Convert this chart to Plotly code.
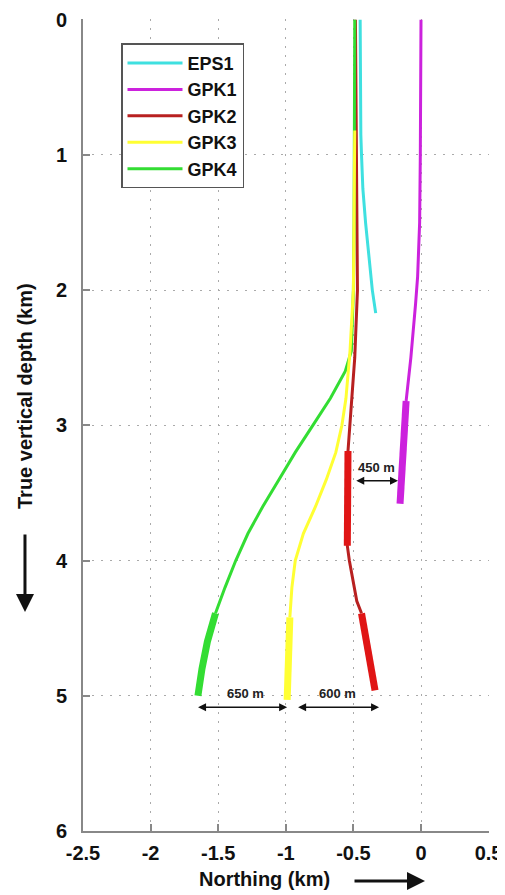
import plotly.graph_objects as go

# ---------------- data ----------------
# EPS1
eps1_depth = [0.0, 0.5, 0.85, 1.0, 1.25, 1.5, 1.75, 2.0, 2.17]
eps1_north = [-0.45, -0.45, -0.445, -0.44, -0.43, -0.41, -0.385, -0.36, -0.335]

# GPK1 (thin + open-hole thick part)
gpk1_depth = [0.0, 0.5, 1.0, 1.5, 1.9, 2.1, 2.5, 2.82]
gpk1_north = [0.0, 0.0, -0.005, -0.01, -0.025, -0.04, -0.075, -0.11]
gpk1_oh_depth = [2.82, 3.2, 3.58]
gpk1_oh_north = [-0.11, -0.13, -0.155]

# GPK2
gpk2_depth = [0.0, 0.82, 1.5, 2.0, 2.5, 3.0, 3.19, 3.5, 3.89, 4.0, 4.15, 4.3, 4.39]
gpk2_north = [-0.485, -0.48, -0.475, -0.47, -0.49, -0.53, -0.54, -0.545, -0.545, -0.53, -0.505, -0.475, -0.44]
gpk2_oh1_depth = [3.19, 3.5, 3.89]
gpk2_oh1_north = [-0.54, -0.545, -0.545]
gpk2_oh2_depth = [4.39, 4.6, 4.8, 4.96]
gpk2_oh2_north = [-0.44, -0.40, -0.365, -0.34]

# GPK3
gpk3_depth = [0.82, 1.5, 2.0, 2.45, 2.8, 3.0, 3.2, 3.4, 3.6, 3.8, 4.0, 4.2, 4.42]
gpk3_north = [-0.49, -0.495, -0.50, -0.525, -0.555, -0.585, -0.63, -0.70, -0.78, -0.87, -0.93, -0.955, -0.97]
gpk3_oh_depth = [4.42, 4.7, 5.03]
gpk3_oh_north = [-0.97, -0.98, -0.99]

# GPK4
gpk4_depth = [0.0, 0.82, 1.5, 2.0, 2.45, 2.6, 2.8, 3.0, 3.2, 3.4, 3.6, 3.8, 4.0, 4.2, 4.39]
gpk4_north = [-0.49, -0.49, -0.495, -0.50, -0.515, -0.56, -0.67, -0.80, -0.93, -1.05, -1.17, -1.28, -1.37, -1.45, -1.52]
gpk4_oh_depth = [4.39, 4.6, 4.8, 5.0]
gpk4_oh_north = [-1.52, -1.58, -1.62, -1.65]

x_ticks = [-2.5, -2, -1.5, -1, -0.5, 0, 0.5]
x_ticklabels = ["-2.5", "-2", "-1.5", "-1", "-0.5", "0", "0.5"]
y_ticks = [0, 1, 2, 3, 4, 5, 6]
y_ticklabels = ["0", "1", "2", "3", "4", "5", "6"]

# spacing annotations: (label, x_from, x_to, y_arrow, x_text, y_text)
spacings = [
    ("450 m", -0.49, -0.17, 3.41, -0.33, 3.31),
    ("650 m", -1.66, -0.99, 5.085, -1.30, 4.98),
    ("600 m", -0.92, -0.31, 5.085, -0.62, 4.98),
]

# ---------------- style ----------------
C_EPS1 = "#3fe0e0"
C_GPK1 = "#cc22dd"
C_GPK2 = "#e01515"
C_GPK2_THIN = "#b82020"
C_GPK3 = "#ffff33"
C_GPK4 = "#33dd33"
FONT = "Liberation Sans, Arial, sans-serif"

fig = go.Figure()


def add(x, y, color, width, name=None, rank=None, legend=False):
    fig.add_trace(go.Scatter(
        x=x, y=y, mode="lines", name=name, showlegend=legend,
        legendrank=rank if rank else 1000,
        line=dict(color=color, width=width),
        hoverinfo="skip"))


# draw order (bottom -> top): EPS1, GPK1, GPK2, GPK4, GPK3
add(eps1_north, eps1_depth, C_EPS1, 3, "EPS1", 1, True)
add(gpk1_north, gpk1_depth, C_GPK1, 3, "GPK1", 2, True)
add(gpk1_oh_north, gpk1_oh_depth, C_GPK1, 7)
add(gpk2_north, gpk2_depth, C_GPK2_THIN, 3, "GPK2", 3, True)
add(gpk2_oh1_north, gpk2_oh1_depth, C_GPK2, 7)
add(gpk2_oh2_north, gpk2_oh2_depth, C_GPK2, 7)
add(gpk4_north, gpk4_depth, C_GPK4, 3, "GPK4", 5, True)
add(gpk4_oh_north, gpk4_oh_depth, C_GPK4, 7)
add(gpk3_north, gpk3_depth, C_GPK3, 3, "GPK3", 4, True)
add(gpk3_oh_north, gpk3_oh_depth, C_GPK3, 7)

annotations = []
for label, x0, x1, ya, xt, yt in spacings:
    annotations.append(dict(
        x=x1, y=ya, ax=x0, ay=ya, xref="x", yref="y", axref="x", ayref="y",
        showarrow=True, arrowside="end+start", arrowhead=2, arrowsize=1,
        arrowwidth=1.6, arrowcolor="#111", text=""))
    annotations.append(dict(
        x=xt, y=yt, xref="x", yref="y", text=label, showarrow=False,
        font=dict(family=FONT, size=13, color="#222", weight="bold")))

# axis titles with arrows
annotations.append(dict(
    x=-0.1429, y=0.5357, xref="paper", yref="paper", text="True vertical depth (km)",
    textangle=-90, showarrow=False, xanchor="center", yanchor="middle",
    font=dict(family=FONT, size=20, color="#111", weight="bold")))
annotations.append(dict(
    x=-0.1429, y=0.2697, xref="paper", yref="paper", ax=0, ay=-79, text="",
    showarrow=True, arrowhead=2, arrowsize=1.2, arrowwidth=3, arrowcolor="#111"))
annotations.append(dict(
    x=0.448, y=-0.0595, xref="paper", yref="paper", text="Northing (km)",
    showarrow=False, xanchor="center", yanchor="middle",
    font=dict(family=FONT, size=20, color="#111", weight="bold")))
annotations.append(dict(
    x=0.8424, y=-0.0616, xref="paper", yref="paper", ax=-72, ay=0, text="",
    showarrow=True, arrowhead=2, arrowsize=1.2, arrowwidth=3, arrowcolor="#111"))

axis_common = dict(
    showline=True, linecolor="#888", linewidth=2, mirror=False,
    ticks="inside", ticklen=7, tickwidth=1.5, tickcolor="#888",
    showgrid=True, gridcolor="#aaaaaa", gridwidth=1, griddash="2px,7px",
    zeroline=False, automargin=False,
    tickfont=dict(family=FONT, size=20, color="#111", weight="bold"),
)

# the page body adds an 8 px offset at top/left, so the figure is 8 px smaller
fig.update_layout(
    width=497, height=887,
    margin=dict(l=75, r=16, t=11, b=64),
    paper_bgcolor="white", plot_bgcolor="white",
    xaxis=dict(range=[-2.5, 0.503], tickvals=x_ticks, ticktext=x_ticklabels,
               ticklabelstandoff=3, **axis_common),
    yaxis=dict(range=[6, -0.005], tickvals=y_ticks, ticktext=y_ticklabels,
               ticklabelstandoff=10, **axis_common),
    legend=dict(x=0.0936, y=0.970, xanchor="left", yanchor="top",
                bgcolor="white", bordercolor="#555", borderwidth=1.5,
                font=dict(family=FONT, size=18, color="#111", weight="bold"),
                itemwidth=55, traceorder="normal", tracegroupgap=0),
    annotations=annotations,
    showlegend=True,
)

fig.write_html("out.html")
